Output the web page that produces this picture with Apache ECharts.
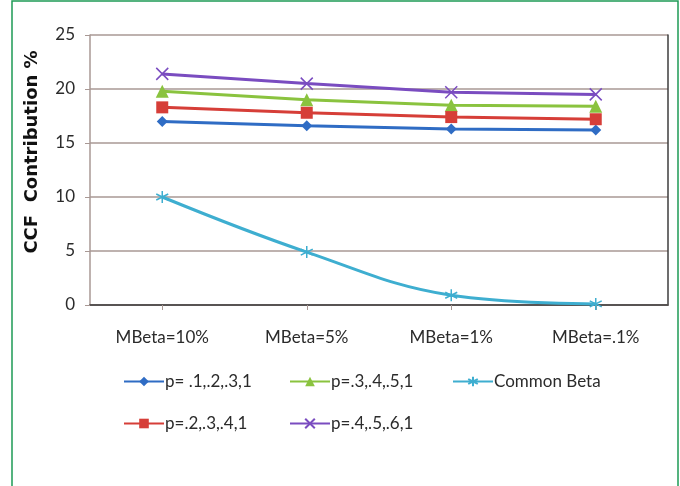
<!DOCTYPE html>
<html>
<head>
<meta charset="utf-8">
<script src="https://cdn.jsdelivr.net/npm/echarts@6/dist/echarts.min.js"></script>
<style>
  html, body { margin: 0; padding: 0; background: #ffffff; }
  #chart { width: 680px; height: 486px; }
</style>
</head>
<body>
<div id="chart"></div>
<script>
// Category labels along the x axis
const categories = ['MBeta=10%', 'MBeta=5%', 'MBeta=1%', 'MBeta=.1%'];

// CCF contribution (%) per scenario
const seriesP1 = [17.0, 16.6, 16.3, 16.2];   // p= .1,.2,.3,1
const seriesP2 = [18.3, 17.8, 17.4, 17.2];   // p=.2,.3,.4,1
const seriesP3 = [19.8, 19.0, 18.5, 18.4];   // p=.3,.4,.5,1
const seriesP4 = [21.4, 20.5, 19.7, 19.5];   // p=.4,.5,.6,1
const commonBeta = [10.0, 4.9, 0.9, 0.1];    // Common Beta

const yTicks = { min: 0, max: 25, interval: 5 };

const FONT = 'Lato, "Open Sans", sans-serif';
const TEXT = '#2b2b2b';
const GRID_LINE = '#a89894';

const xMark = 'path://M0,0L10,10M10,0L0,10';
const starMark = 'path://M5,0L5,10M0,2.5L10,7.5M10,2.5L0,7.5';

function lineSeries(name, data, color, symbol, size, extra) {
  return Object.assign({
    name: name,
    type: 'line',
    data: data,
    symbol: symbol,
    symbolSize: size,
    lineStyle: { color: color, width: 3 },
    itemStyle: { color: color, borderColor: color, borderWidth: 0 },
    emphasis: { disabled: true },
    z: 3
  }, extra || {});
}

function legendAt(name, left, top) {
  return {
    data: [name],
    left: left,
    top: top,
    padding: 0,
    itemWidth: 40,
    itemHeight: 12,
    selectedMode: false,
    textStyle: { fontFamily: FONT, fontSize: 17, color: TEXT, padding: [0, 0, 0, -4] }
  };
}

const chart = echarts.init(document.getElementById('chart'), null, { renderer: 'canvas' });

chart.setOption({
  animation: false,
  backgroundColor: '#ffffff',
  grid: { left: 90, right: 12, top: 35, bottom: 181, containLabel: false },
  legend: [
    legendAt('p= .1,.2,.3,1', 123, 373),
    legendAt('p=.3,.4,.5,1', 289, 373),
    legendAt('Common Beta', 452, 373),
    legendAt('p=.2,.3,.4,1', 123, 415),
    legendAt('p=.4,.5,.6,1', 289, 415)
  ],
  xAxis: [
    {
      type: 'category',
      data: categories,
      boundaryGap: true,
      axisLine: { lineStyle: { color: GRID_LINE, width: 1.5 } },
      axisTick: { show: true, alignWithLabel: true, length: 5, lineStyle: { color: GRID_LINE } },
      axisLabel: { fontFamily: FONT, fontSize: 17, color: TEXT, margin: 24 },
      splitLine: { show: false }
    },
    {
      // frame line across the top of the plot
      type: 'category',
      data: categories,
      position: 'top',
      axisLine: { lineStyle: { color: '#3c3c3c', width: 1.5 } },
      axisTick: { show: false },
      axisLabel: { show: false }
    }
  ],
  yAxis: [
    {
      type: 'value',
      min: yTicks.min,
      max: yTicks.max,
      interval: yTicks.interval,
      name: 'CCF  Contribution %',
      nameLocation: 'middle',
      nameGap: 49,
      nameRotate: 90,
      nameTextStyle: { fontFamily: '"DejaVu Sans", sans-serif', fontSize: 18, fontWeight: 'bold', color: '#111', padding: [0, 0, 0, 36] },
      axisLine: { show: true, lineStyle: { color: GRID_LINE, width: 1.5 } },
      axisTick: { show: true, length: 5, lineStyle: { color: GRID_LINE } },
      axisLabel: { fontFamily: FONT, fontSize: 17, color: TEXT, margin: 15 },
      splitLine: { lineStyle: { color: GRID_LINE, width: 1.5 } }
    },
    {
      // frame line down the right side of the plot
      type: 'value',
      min: yTicks.min,
      max: yTicks.max,
      interval: yTicks.interval,
      position: 'right',
      axisLine: { show: true, lineStyle: { color: '#3c3c3c', width: 1.5 } },
      axisTick: { show: false },
      axisLabel: { show: false },
      splitLine: { show: false }
    }
  ],
  graphic: [
    {
      type: 'polyline',
      shape: { points: [[12, 486], [12, 1], [678, 1], [678, 486]] },
      style: { stroke: '#1e9a55', lineWidth: 1.5, fill: null },
      silent: true
    }
  ],
  series: [
    lineSeries('p= .1,.2,.3,1', seriesP1, '#2f6cc4', 'diamond', 11),
    lineSeries('p=.3,.4,.5,1', seriesP3, '#8ac33f', 'triangle', 13),
    lineSeries('Common Beta', commonBeta, '#3eaed0', starMark, 12, {
      smooth: 0.4,
      itemStyle: { color: '#3eaed0', borderColor: '#3eaed0', borderWidth: 1.5 }
    }),
    lineSeries('p=.2,.3,.4,1', seriesP2, '#d63e38', 'rect', 12),
    lineSeries('p=.4,.5,.6,1', seriesP4, '#7a4cc0', xMark, 12, {
      itemStyle: { color: '#7a4cc0', borderColor: '#7a4cc0', borderWidth: 1.5 }
    })
  ]
});
</script>
</body>
</html>
